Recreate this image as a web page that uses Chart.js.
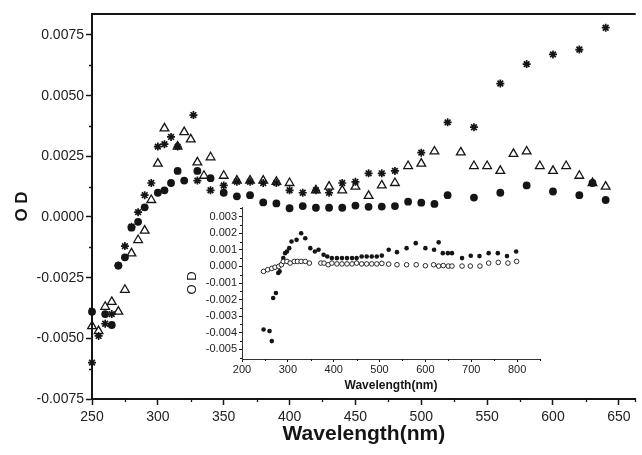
<!DOCTYPE html>
<html>
<head>
<meta charset="utf-8">
<script src="https://cdn.jsdelivr.net/npm/chart.js@4/dist/chart.umd.min.js"></script>
<style>
html, body { margin: 0; padding: 0; background: #fff; }
#wrap { position: relative; width: 642px; height: 455px; overflow: hidden; }
#main { position: absolute; left: 0; top: 0; }
#inset { position: absolute; left: 150px; top: 195px; }
</style>
</head>
<body>
<div id="wrap">
	<canvas id="main" width="642" height="455"></canvas>
	<canvas id="inset" width="400" height="210"></canvas>
</div>
<script>
// main plot: three series (asterisks, open triangles, filled dots)
const starX = [250, 255, 260, 265, 270, 275, 280, 285, 290, 295, 300, 305, 310, 315, 327, 330, 340, 350, 360, 370, 380, 390, 400, 410, 420, 430, 440, 450, 460, 470, 480, 500, 520, 540, 560, 580, 600, 620, 640];
const starY = [-0.0060, -0.0049, -0.0044, -0.0040, -0.0020, -0.0012, -0.0004, 0.0002, 0.0009, 0.0014, 0.0029, 0.0030, 0.0033, 0.0029, 0.0042, 0.0015, 0.0011, 0.0013, 0.00145, 0.00145, 0.0014, 0.0014, 0.0011, 0.0010, 0.0011, 0.0010, 0.0014, 0.00145, 0.0018, 0.0018, 0.0019, 0.00265, 0.0039, 0.0037, 0.0055, 0.0063, 0.0067, 0.0069, 0.0078];

const triX = [250, 255, 260, 265, 270, 275, 280, 285, 290, 295, 300, 305, 315, 320, 325, 330, 335, 340, 350, 360, 370, 380, 390, 400, 420, 430, 440, 450, 460, 470, 480, 490, 500, 510, 530, 540, 550, 560, 570, 580, 590, 600, 610, 620, 630, 640];
const triY = [-0.0045, -0.0047, -0.0037, -0.0035, -0.0039, -0.0030, -0.0015, -0.00095, -0.00056, 0.0007, 0.0022, 0.00365, 0.0029, 0.0035, 0.0032, 0.00225, 0.0017, 0.00246, 0.0017, 0.0015, 0.0015, 0.0015, 0.00145, 0.0014, 0.0011, 0.00125, 0.0011, 0.00125, 0.00087, 0.0013, 0.0014, 0.0021, 0.0022, 0.0027, 0.00266, 0.0021, 0.0021, 0.0019, 0.0026, 0.0027, 0.0021, 0.0019, 0.0021, 0.0017, 0.0014, 0.00125];

const dotX = [250, 260, 265, 270, 275, 280, 285, 290, 300, 305, 310, 315, 320, 330, 340, 350, 360, 370, 380, 390, 400, 410, 420, 430, 440, 450, 460, 470, 480, 490, 500, 510, 520, 540, 560, 580, 600, 620, 630, 640];
const dotY = [-0.0039, -0.0040, -0.00445, -0.0020, -0.00166, -0.00044, -0.0002, 0.0004, 0.0010, 0.0011, 0.0014, 0.0019, 0.0015, 0.0019, 0.0016, 0.0010, 0.00085, 0.0009, 0.0006, 0.00056, 0.00036, 0.00045, 0.00038, 0.00038, 0.00038, 0.00047, 0.00042, 0.00043, 0.00045, 0.00063, 0.00059, 0.00054, 0.0009, 0.0008, 0.0010, 0.0013, 0.00105, 0.0009, 0.0014, 0.0007];

const mainXTicks = [250, 300, 350, 400, 450, 500, 550, 600, 650];
const mainYTicks = [-0.0075, -0.005, -0.0025, 0, 0.0025, 0.005, 0.0075];

// inset: filled and open small circles
const inFullX = [247, 260, 265, 268, 274, 279, 282, 285, 290, 294, 298, 303, 308, 319, 329, 338, 349, 359, 367, 378, 386, 396, 407, 418, 429, 440, 450, 461, 472, 483, 494, 505, 520, 538, 559, 579, 600, 619, 629, 638, 649, 658, 680, 699, 718, 738, 758, 778, 798];
const inFullY = [-0.0038, -0.0039, -0.0045, -0.0019, -0.0016, -0.0004, -0.0003, 0.0001, 0.0005, 0.0008, 0.0009, 0.0011, 0.0015, 0.0016, 0.0020, 0.0017, 0.0011, 0.0009, 0.0010, 0.0007, 0.0006, 0.0005, 0.0005, 0.0005, 0.0005, 0.0005, 0.0005, 0.0006, 0.0006, 0.0006, 0.0006, 0.00065, 0.0010, 0.00086, 0.0011, 0.0014, 0.0011, 0.0010, 0.00145, 0.0008, 0.0008, 0.0008, 0.0005, 0.00064, 0.00062, 0.0008, 0.0008, 0.00062, 0.0009];

const inOpenX = [247, 256, 265, 272, 280, 286, 290, 298, 305, 314, 321, 329, 338, 347, 372, 379, 388, 396, 407, 418, 429, 440, 450, 461, 472, 483, 494, 505, 520, 538, 559, 580, 600, 618, 629, 639, 650, 658, 680, 698, 719, 738, 759, 780, 799];
const inOpenY = [-0.0003, -0.0002, -0.00012, -0.00005, 0.0, 0.0001, 0.0003, 0.0003, 0.0002, 0.0003, 0.0003, 0.0003, 0.0003, 0.0002, 0.0002, 0.0002, 0.0001, 0.0002, 0.00015, 0.00015, 0.00015, 0.00015, 0.0002, 0.00015, 0.00015, 0.00015, 0.00015, 0.00018, 0.00014, 0.0001, 0.0001, 0.0001, 0.00004, 0.0001, 0.00002, 0.00005, 0.00002, 0.00002, 0.00002, 0.00002, 0.00002, 0.0002, 0.00024, 0.0002, 0.0003];

const inXTicks = [200, 300, 400, 500, 600, 700, 800];
const inYTicks = [-0.005, -0.004, -0.003, -0.002, -0.001, 0, 0.001, 0.002, 0.003];

const FONT = "'Liberation Sans', Arial, Helvetica, sans-serif";
const INK = '#151515';

const pts = (xs, ys) => xs.map((x, i) => ({x: x, y: ys[i]}));

// midpoints between major ticks, drawn as short marks
const minorTicks = {
	id: 'minorTicks',
	afterDraw(chart, args, opts) {
		const {ctx, chartArea} = chart;
		const sx = chart.scales.x, sy = chart.scales.y;
		ctx.save();
		ctx.strokeStyle = INK;
		ctx.lineWidth = opts.width;
		ctx.beginPath();
		opts.x.forEach(v => {
			const p = Math.round(sx.getPixelForValue(v)) + 0.5;
			ctx.moveTo(p, chartArea.bottom);
			ctx.lineTo(p, chartArea.bottom + opts.len);
		});
		opts.y.forEach(v => {
			const p = Math.round(sy.getPixelForValue(v)) + 0.5;
			ctx.moveTo(chartArea.left, p);
			ctx.lineTo(chartArea.left - opts.len, p);
		});
		ctx.stroke();
		if (opts.frameTop) {
			ctx.lineWidth = 2;
			ctx.beginPath();
			ctx.moveTo(chartArea.left - 1, chartArea.top);
			ctx.lineTo(chartArea.right, chartArea.top);
			ctx.stroke();
		}
		ctx.restore();
	}
};

const mid = arr => arr.slice(0, -1).map((v, i) => (v + arr[i + 1]) / 2);

new Chart(document.getElementById('main'), {
	type: 'scatter',
	data: {
		datasets: [
			{data: pts(dotX, dotY), pointStyle: 'circle', pointRadius: 3.9, backgroundColor: INK, borderColor: INK, borderWidth: 0, clip: false},
			{data: pts(triX, triY), pointStyle: 'triangle', pointRadius: 5, backgroundColor: 'rgba(0,0,0,0)', borderColor: INK, borderWidth: 1.3, clip: false},
			{data: pts(starX, starY), pointStyle: 'star', pointRadius: 4, backgroundColor: INK, borderColor: INK, borderWidth: 1.7, clip: false}
		]
	},
	options: {
		responsive: false,
		animation: false,
		devicePixelRatio: 1,
		layout: {padding: {top: 14, right: 0, left: 0, bottom: 0}},
		plugins: {
			legend: {display: false},
			tooltip: {enabled: false},
			minorTicks: {x: mid(mainXTicks).concat([662.5]), y: mid(mainYTicks), len: 3, width: 1.3, frameTop: true}
		},
		scales: {
			x: {
				type: 'linear', min: 250, max: 662.8,
				afterBuildTicks: s => { s.ticks = mainXTicks.map(v => ({value: v})); },
				afterFit: s => { s.height = 56; },
				grid: {drawOnChartArea: false, tickLength: 6, tickWidth: 1.5, tickColor: INK},
				border: {color: INK, width: 2},
				ticks: {color: '#222', font: {family: FONT, size: 14}, padding: 4, maxRotation: 0},
				title: {display: true, text: 'Wavelength(nm)', color: INK, font: {family: FONT, size: 21, weight: 'bold'}, padding: {top: 0, bottom: 8}}
			},
			y: {
				min: -0.0075, max: 0.008365,
				afterBuildTicks: s => { s.ticks = mainYTicks.map(v => ({value: v})); },
				afterFit: s => { s.width = 92; },
				grid: {drawOnChartArea: false, tickLength: 6, tickWidth: 1.5, tickColor: INK},
				border: {color: INK, width: 2},
				ticks: {color: '#222', font: {family: FONT, size: 14}, padding: 2, callback: v => v.toFixed(4)},
				title: {display: true, text: 'O D', color: INK, font: {family: FONT, size: 17, weight: 'bold'}, padding: {top: 12, bottom: 0}}
			}
		}
	},
	plugins: [minorTicks]
});

new Chart(document.getElementById('inset'), {
	type: 'scatter',
	data: {
		datasets: [
			{data: pts(inOpenX, inOpenY), pointStyle: 'circle', pointRadius: 2.3, backgroundColor: '#fff', borderColor: INK, borderWidth: 0.9, clip: false},
			{data: pts(inFullX, inFullY), pointStyle: 'circle', pointRadius: 2.3, backgroundColor: INK, borderColor: INK, borderWidth: 0, clip: false}
		]
	},
	options: {
		responsive: false,
		animation: false,
		devicePixelRatio: 1,
		layout: {padding: {top: 12, right: 10, left: 0, bottom: 0}},
		plugins: {
			legend: {display: false},
			tooltip: {enabled: false},
			minorTicks: {x: mid(inXTicks).concat([850]), y: mid(inYTicks).concat([-0.0055, 0.0035]), len: 2, width: 1, frameTop: false}
		},
		scales: {
			x: {
				type: 'linear', min: 200, max: 850,
				afterBuildTicks: s => { s.ticks = inXTicks.map(v => ({value: v})); },
				afterFit: s => { s.height = 46; },
				grid: {drawOnChartArea: false, tickLength: 3, tickWidth: 1, tickColor: INK},
				border: {color: '#333', width: 1},
				ticks: {color: '#222', font: {family: FONT, size: 11}, padding: 1, maxRotation: 0},
				title: {display: true, text: 'Wavelength(nm)', color: INK, font: {family: FONT, size: 12, weight: 'bold'}, padding: {top: 0, bottom: 12}}
			},
			y: {
				min: -0.00558, max: 0.00358,
				afterBuildTicks: s => { s.ticks = inYTicks.map(v => ({value: v})); },
				afterFit: s => { s.width = 92; },
				grid: {drawOnChartArea: false, tickLength: 3, tickWidth: 1, tickColor: INK},
				border: {color: '#333', width: 1},
				ticks: {color: '#222', font: {family: FONT, size: 11}, padding: 2, callback: v => v.toFixed(3)},
				title: {display: true, text: 'O D', color: INK, font: {family: FONT, size: 13}, padding: {top: 35, bottom: 0}}
			}
		}
	},
	plugins: [minorTicks]
});
</script>
</body>
</html>
